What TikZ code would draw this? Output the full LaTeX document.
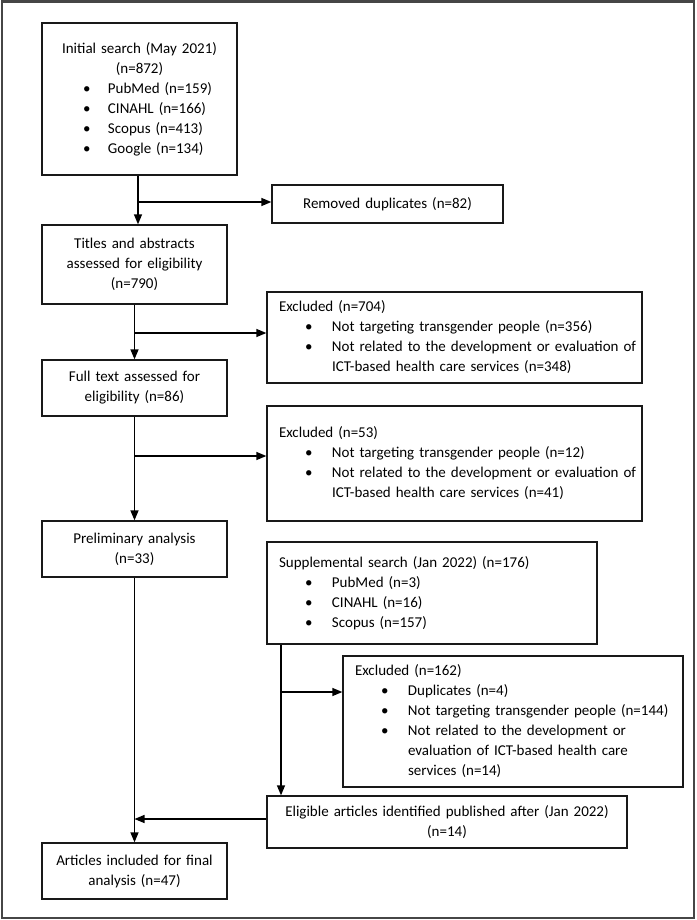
\documentclass[tikz,border=0pt]{standalone}
\usepackage{fontspec}
\setmainfont{Carlito}
\usetikzlibrary{arrows.meta}
\definecolor{framegray}{RGB}{70,70,70}
\newcommand\bitem[1]{\hspace*{38pt}\makebox[27pt][l]{\textbullet}#1}
\newcommand\bitemA[1]{\hspace*{41pt}\makebox[25pt][l]{\textbullet}#1}
\newcommand\hdr[1]{\hspace*{12pt}#1}
\newcommand\cont[1]{\hspace*{65pt}#1}
\begin{document}
\begin{tikzpicture}[x=1pt,y=-1pt,
  box/.style={draw=black!90, line width=1.3pt, inner sep=0pt, font={\fontsize{15}{20}\selectfont}},
  cbox/.style={box, align=center},
  lbox/.style={box, align=left},
  arr/.style={draw=black, line width=1.3pt, -{Triangle[length=10pt,width=8pt]}}]
\useasboundingbox (0,0) rectangle (696,920);
\draw[line width=2.2pt, draw=framegray] (2,1.5) rectangle (694,918);

\node[lbox, minimum width=195, minimum height=152, text width=195] (b1) at (139.5,99)
  {\makebox[195pt]{Initial search (May 2021)}\\
   \makebox[195pt]{(n=872)}\\
   \bitemA{PubMed (n=159)}\\
   \bitemA{CINAHL (n=166)}\\
   \bitemA{Scopus (n=413)}\\
   \bitemA{Google (n=134)}};
\node[cbox, minimum width=231, minimum height=38, text width=231] (rem) at (387.5,204)
  {Removed duplicates (n=82)};
\node[cbox, minimum width=185, minimum height=79, text width=185] (b2) at (134.5,264.5)
  {Titles and abstracts\\assessed for eligibility\\(n=790)};
\node[lbox, minimum width=375, minimum height=91, text width=375] (ex1) at (454.5,337.5)
  {\hdr{Excluded (n=704)}\\
   \bitem{Not targeting transgender people (n=356)}\\
   \bitem{Not related to the development or evaluation of}\\
   \cont{ICT-based health care services (n=348)}};
\node[cbox, minimum width=185, minimum height=56, text width=185] (b3) at (134.5,388)
  {Full text assessed for\\eligibility (n=86)};
\node[lbox, minimum width=375, minimum height=115, text width=375] (ex2) at (454.5,463.5)
  {\hdr{Excluded (n=53)}\\
   \bitem{Not targeting transgender people (n=12)}\\
   \bitem{Not related to the development or evaluation of}\\
   \cont{ICT-based health care services (n=41)}};
\node[cbox, minimum width=185, minimum height=56, text width=185] (pre) at (134.5,549)
  {Preliminary analysis\\(n=33)};
\node[lbox, minimum width=330, minimum height=102, text width=330] (sup) at (432,593)
  {\hdr{Supplemental search (Jan 2022) (n=176)}\\
   \bitem{PubMed (n=3)}\\
   \bitem{CINAHL (n=16)}\\
   \bitem{Scopus (n=157)}};
\node[lbox, minimum width=340, minimum height=131, text width=340] (ex3) at (513,721.5)
  {\hdr{Excluded (n=162)}\\
   \bitem{Duplicates (n=4)}\\
   \bitem{Not targeting transgender people (n=144)}\\
   \bitem{Not related to the development or}\\
   \cont{evaluation of ICT-based health care}\\
   \cont{services (n=14)}};
\node[cbox, minimum width=360, minimum height=52, text width=360] (eli) at (447,822)
  {Eligible articles identified published after (Jan 2022)\\(n=14)};
\node[cbox, minimum width=185, minimum height=56, text width=185] (fin) at (134.5,871)
  {Articles included for final\\analysis (n=47)};

% connectors
\coordinate (j1) at (138,202);
\draw[arr] (b1.south -| j1) -- (j1 |- b2.north);
\draw[arr] (j1) -- (j1 -| rem.west);

\coordinate (j2) at (134.5,333);
\draw[arr] (b2.south) -- (b3.north);
\draw[arr] (j2) -- (j2 -| ex1.west);

\coordinate (j3) at (134.5,456);
\draw[arr] (b3.south) -- (pre.north);
\draw[arr] (j3) -- (j3 -| ex2.west);

\coordinate (j4) at (281,692);
\draw[arr] (sup.south -| j4) -- (j4 |- eli.north);
\draw[arr] (j4) -- (j4 -| ex3.west);

\draw[arr] (pre.south) -- (fin.north);
\coordinate (j5) at (134.5,819);
\draw[arr] (eli.west |- j5) -- (j5);
\end{tikzpicture}
\end{document}
